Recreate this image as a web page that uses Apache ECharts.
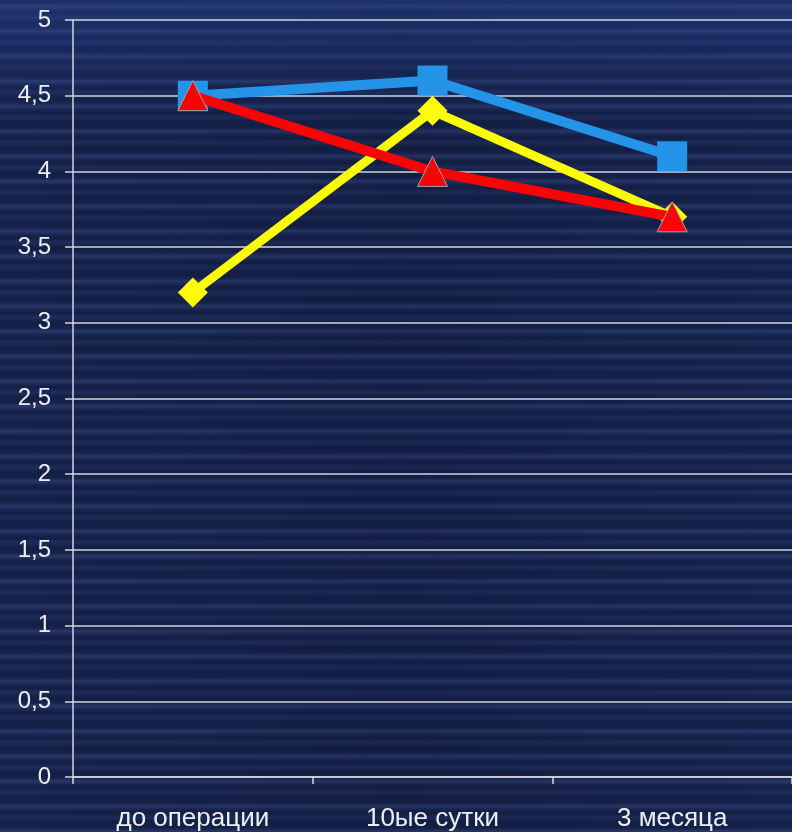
<!DOCTYPE html>
<html>
<head>
<meta charset="utf-8">
<script src="https://cdn.jsdelivr.net/npm/echarts@6/dist/echarts.min.js"></script>
<style>
  html, body { margin: 0; padding: 0; }
  #chart {
    width: 792px;
    height: 832px;
    background:
      linear-gradient(to bottom, rgba(45, 80, 170, 0.35) 0px, rgba(45, 80, 170, 0) 120px),
      linear-gradient(to right, rgba(10, 16, 40, 0) 0px, rgba(10, 16, 40, 0.15) 400px, rgba(10, 16, 40, 0) 792px),
      repeating-linear-gradient(to bottom,
        #141f48 0px, #17234d 3px, #283867 6px, #253466 7px, #18244f 10px,
        #131e46 13px, #1b2955 16px, #1e2c59 18px, #152149 21px, #141f48 25px);
  }
</style>
</head>
<body>
<div id="chart"></div>
<script>
// Time points of the follow-up
const categories = ['до операции', '10ые сутки', '3 месяца'];

// Mean scores per group
const blueSeries = [4.5, 4.6, 4.1];
const yellowSeries = [3.2, 4.4, 3.7];
const redSeries = [4.5, 4.0, 3.7];

// Value axis tick labels (0 … 5 step 0.5)
const yTickValues = [0, 0.5, 1, 1.5, 2, 2.5, 3, 3.5, 4, 4.5, 5];
const yTickLabels = ['0', '0,5', '1', '1,5', '2', '2,5', '3', '3,5', '4', '4,5', '5'];

const chart = echarts.init(document.getElementById('chart'), null, { renderer: 'canvas' });

const textColor = '#eceef4';
const lineColor = '#d2d6e0';

chart.setOption({
  backgroundColor: 'transparent',
  animation: false,
  grid: { left: 73, right: 0, top: 20, bottom: 55, containLabel: false },
  xAxis: {
    type: 'category',
    data: categories,
    boundaryGap: true,
    axisLine: { lineStyle: { color: lineColor, width: 1.5 } },
    axisTick: { show: true, length: 7, lineStyle: { color: lineColor, width: 1.5 } },
    axisLabel: {
      color: textColor,
      fontFamily: '"Liberation Sans", Arial, sans-serif',
      fontSize: 26,
      margin: 29
    },
    splitLine: { show: false }
  },
  yAxis: {
    type: 'value',
    min: 0,
    max: 5,
    interval: 0.5,
    axisLine: { show: true, lineStyle: { color: lineColor, width: 1.5 } },
    axisTick: { show: true, length: 8, lineStyle: { color: lineColor, width: 1.5 } },
    axisLabel: {
      color: textColor,
      fontFamily: '"Liberation Sans", Arial, sans-serif',
      fontSize: 24,
      margin: 22,
      formatter: function (v) {
        const i = yTickValues.findIndex(t => Math.abs(t - v) < 1e-9);
        return i >= 0 ? yTickLabels[i] : String(v);
      }
    },
    splitLine: { show: true, lineStyle: { color: lineColor, width: 1.5 } }
  },
  series: [
    {
      type: 'line',
      data: blueSeries,
      symbol: 'rect',
      symbolSize: 30,
      lineStyle: { color: '#2394e8', width: 10 },
      itemStyle: { color: '#2394e8' },
      z: 2
    },
    {
      type: 'line',
      data: yellowSeries,
      symbol: 'diamond',
      symbolSize: 30,
      lineStyle: { color: '#ffff00', width: 9 },
      itemStyle: { color: '#ffff00' },
      z: 3
    },
    {
      type: 'line',
      data: redSeries,
      symbol: 'triangle',
      symbolSize: 30,
      lineStyle: { color: '#ff0000', width: 10 },
      itemStyle: { color: '#ff0000', borderColor: '#a0a0b0', borderWidth: 1 },
      z: 4
    }
  ]
});
</script>
</body>
</html>
